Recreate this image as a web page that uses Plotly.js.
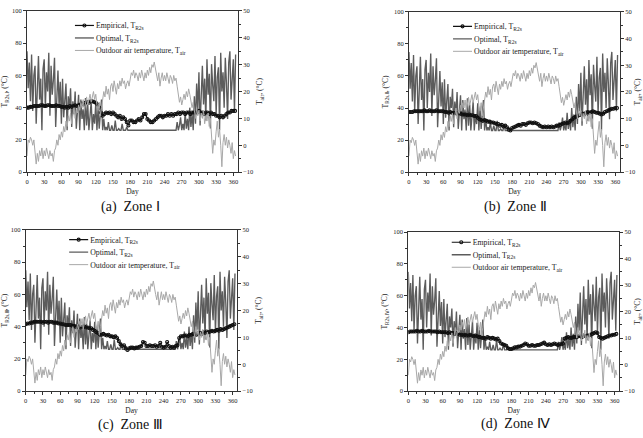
<!DOCTYPE html>
<html><head><meta charset="utf-8">
<script src="https://cdn.plot.ly/plotly-3.0.1.min.js"></script>
<style>body{margin:0;padding:0;background:#fff}#chart{width:643px;height:438px}</style>
</head><body><div id="chart"></div>
<script>
// Outdoor air temperature (°C), every 2 days from day 0
const outdoorAir = [
-4,2,1,3,2,0,2,-2,-7,-3,-6,-2,-4,-1,-5,-2,-4,-1,-3,-5,
-2,-4,-3,-6,-2,-1,2,0,4,2,5,3,7,5,9,7,11,9,12,8,
11,14,10,13,12,15,13,16,14,17,13,16,18,15,17,19,16,18,20,17,
19,15,13,16,11,14,17,20,18,22,19,21,17,22,23,20,24,22,19,23,
21,24,22,25,23,24,21,23,24,22,25,27,26,28,25,27,26,24,27,25,
28,26,24,27,25,28,26,29,27,30,29,31,28,26,24,27,22,25,27,24,
26,24,27,25,23,26,25,23,26,24,25,22,19,16,18,15,17,19,17,20,
18,21,19,17,14,16,12,10,14,11,13,9,12,10,13,8,11,9,12,7,
10,5,-3,2,0,5,9,3,6,0,-8,1,4,0,3,-1,2,0,-3,1,
-5,-2,-4
];
// Optimal supply temperature (°C), every 2 days from day 0
const optimal = [
75,52,68,44,73,38,60,66,30,55,72,45,58,26,64,70,40,62,50,74,35,66,48,57,71,28,52,63,41,56,30,
58,34,49,55,26,47,40,52,28,44,36,50,27,41,48,26,45,33,39,26,46,29,42,26,38,44,26,36,30,43,26,40,27,34,45,
26,33,26,28,26,31,26,26,29,26,26,32,26,26,27,26,26,30,26,26,26,28,26,
26,26,26,26,26,26,26,26,26,26,26,26,26,26,26,26,26,26,26,26,26,26,26,26,26,26,26,26,26,26,26,26,26,26,26,26,26,26,26,26,26,
26,31,26,29,34,26,30,26,37,27,33,26,40,28,36,26,
47,30,55,38,62,29,50,66,42,58,32,70,48,61,27,67,54,44,72,36,59,65,26,74,50,62,40,71,55,33,68,75,45,60,70,38,73
];
// Empirical supply temperature (°C), every 3 days from day 0
const empZone1 = [
40,40,40.5,40.5,41,41,41,41,41.5,41.5,41,41,41.5,41.5,41,41,41,41.5,41,41,40.5,
40.5,40,40.5,40,41,40.5,41,41.5,41,41.5,42,42.5,42,
43,43.5,43,44,44,43.5,43,42,40,
37,35,36,37,36.5,37,36,37,
36,35,34,35,33,34,33,
31,29,32,32,31,31,32,33,32,
34,36,36,33,32,31,31,
32,33,34,35,35,34,35,35,36,
35,36,35,36,36,37,36,37,37,36,37,37,36,37,37,
37,37,38,37,37,36,37,37,36,37,36,36,35,
35,34,35,34,35,36,37,37,38,38,38
];
const empZone2 = [
37.5,37.5,37.5,38,38,38,38,38,38,38.5,38,38,38.5,38,38,38,38.5,38,38,38,38,
37.5,37.5,37,37.5,37,37,37,36.5,37,36.5,36,36,36,
35.5,36,35.5,35.5,35,35,34,33,32.5,
32,32.5,32,31.5,31.5,31,31,30.5,
30,30,29,29.5,28.5,29,28,
26.5,26,27.5,28,28.5,29,29.5,29,30,
30,29.5,30.5,31,31,30.5,31,
30.5,30,29,28.5,28,28.5,28,28.5,28,
28.5,28,28.5,29,29,29.5,30,30.5,31,30.5,31,32,33,34,34.5,
35,35.5,36,36.5,36,37,37.5,37,37.5,38,37.5,37,37,
36.5,36,36.5,37.5,38,38.5,39,39.5,39.5,40,40
];
const empZone3 = [
41.5,42,42,42.5,42.5,43,43,43,43,43,42.5,43,43,42.5,43,43,42.5,42.5,42.5,42,42,
41.5,41.5,41,41,41,41,40.5,40.5,40,40,40,39.5,40,
40,39.5,39.5,39,39,38,37.5,36.5,36,
35,35,35.5,35,34.5,35,34,34,
33.5,34,33,31,29,28,28.5,
26.5,25.5,26.5,27,27,26.5,27,27,27.5,
28,30.5,30,28,28,28.5,28,
28,28.5,27.5,28,30,27.5,27,27.5,30.5,
28,27,27.5,27,28,28.5,33,34,34,34.5,34.5,34,35,35,35.5,
35.5,35,36,36,35.5,36.5,36,37,36.5,37,37.5,37,37.5,
38,37.5,38.5,38,38.5,39,39.5,40,40.5,41,41.5
];
const empZone4 = [
37,37.5,37.5,37.5,37.5,38,37.5,37.5,38,37.5,37.5,37.5,38,37.5,37.5,37.5,37.5,37,37.5,37,37,
37,37,36.5,37,36.5,36.5,36,36.5,36,35.5,35.5,35,35.5,
35,35,35.5,35,34.5,35,34.5,34,34,
33.5,33.5,33,34,33.5,33,33.5,33,
32.5,33,31.5,30,29.5,29,28.5,
27,26.5,26.5,27,27.5,27.5,28,28,28.5,
29,30,29.5,28.5,28.5,29,28.5,
28.5,29,29,29.5,30,30.5,29.5,29,29.5,
29,29.5,30,29.5,29,29.5,29.5,30,33,33.5,34,33.5,33.5,34,34,
34,34.5,34.5,34,35,34.5,35,35,35.5,36,36.5,37,36.5,
34,33.5,33,33.5,34,34.5,35,35,35.5,35.5,36
];
const empirical = [empZone1, empZone2, empZone3, empZone4];
const dayTicks = [0,30,60,90,120,150,180,210,240,270,300,330,360];
const zoneLabels = ['(a)  Zone Ⅰ','(b)  Zone Ⅱ','(c)  Zone Ⅲ','(d)  Zone Ⅳ'];
const zoneSubs = ['R2s,Ⅰ','R2s,Ⅱ','R2s,Ⅲ','R2s,Ⅳ'];
const legendNames = ['Empirical, T<sub>R2s</sub>','Optimal, T<sub>R2s</sub>','Outdoor air temperature, T<sub>air</sub>'];

// layout geometry
const xDomains = [[0.042,0.370],[0.636,0.964],[0.040,0.369],[0.635,0.963]];
const yDomains = [[0.607,0.975],[0.607,0.973],[0.107,0.475],[0.107,0.470]];
const legendPos = [[0.087,0.975],[0.675,0.973],[0.078,0.486],[0.673,0.480]];
const captionPos = [[0.203,0.527],[0.802,0.527],[0.203,0.030],[0.802,0.032]];

const FONT = 'Liberation Serif, Times New Roman, serif';
const traces = [];
const layout = {
  width:643, height:438, margin:{l:0,r:0,t:0,b:0},
  paper_bgcolor:'#fff', plot_bgcolor:'#fff',
  font:{family:FONT, color:'#222', size:7},
  annotations:[], showlegend:true
};
for (let i=0;i<4;i++){
  const xa = 'x'+(i+1), yl = 'y'+(2*i+1), yr = 'y'+(2*i+2);
  const lg = i===0 ? 'legend' : 'legend'+(i+1);
  traces.push({x0:0, dx:2, y:optimal, type:'scatter', mode:'lines', name:legendNames[1],
    xaxis:xa, yaxis:yl, legend:lg, legendrank:2, line:{color:'#5c5c5c', width:1.35}});
  traces.push({x0:0, dx:3, y:empirical[i], type:'scatter', mode:'lines+markers', name:legendNames[0],
    xaxis:xa, yaxis:yl, legend:lg, legendrank:1, line:{color:'#111', width:1.2},
    marker:{symbol:'circle-open', size:3, color:'#111', line:{width:1.1, color:'#111'}}});
  traces.push({x0:0, dx:2, y:outdoorAir, type:'scatter', mode:'lines', name:legendNames[2],
    xaxis:xa, yaxis:yr, legend:lg, legendrank:3, line:{color:'#a8a8a8', width:1}});
  const axCommon = {showline:true, linecolor:'#333', linewidth:1, ticks:'outside', ticklen:3,
    tickcolor:'#333', tickfont:{size:6.5, family:FONT, color:'#222'}, showgrid:false, zeroline:false};
  layout['xaxis'+(i+1)] = Object.assign({}, axCommon, {domain:xDomains[i], anchor:yl, range:[0,368],
    tickvals:dayTicks, mirror:true, minor:{dtick:15, ticklen:2, ticks:'outside', tickcolor:'#333'},
    title:{text:'Day', font:{size:7.5, family:FONT}, standoff:4}});
  layout['yaxis'+(2*i+1)] = Object.assign({}, axCommon, {domain:yDomains[i], anchor:xa, range:[0,100],
    dtick:20, minor:{dtick:10, ticklen:2, ticks:'outside', tickcolor:'#333'},
    title:{text:'T<sub>'+zoneSubs[i]+'</sub>, (°C)', font:{size:7.5, family:FONT}, standoff:4}});
  layout['yaxis'+(2*i+2)] = Object.assign({}, axCommon, {domain:yDomains[i], anchor:xa, overlaying:yl,
    side:'right', range:[-10,50], dtick:10, minor:{dtick:5, ticklen:2, ticks:'outside', tickcolor:'#333'},
    title:{text:'T<sub>air</sub>, (°C)', font:{size:7.5, family:FONT}, standoff:4}});
  layout[lg] = {x:legendPos[i][0], y:legendPos[i][1], xanchor:'left', yanchor:'top',
    bgcolor:'rgba(0,0,0,0)', borderwidth:0, font:{size:7.8, family:FONT, color:'#222'},
    tracegroupgap:0, itemwidth:30};
  layout.annotations.push({text:zoneLabels[i], xref:'paper', yref:'paper', x:captionPos[i][0], y:captionPos[i][1],
    xanchor:'center', yanchor:'middle', showarrow:false, font:{size:14, family:FONT, color:'#111'}});
}
const gd = document.getElementById('chart');
Plotly.newPlot(gd, traces, layout, {displayModeBar:false, staticPlot:true}).then(function(){
  // tighten legend rows and shorten legend sample lines to match the original figure
  ['legend','legend2','legend3','legend4'].forEach(function(id){
    const L = gd.querySelector('g.' + id);
    if (!L) return;
    const items = Array.from(L.querySelectorAll('g.traces'));
    let y0 = null;
    items.forEach(function(it, k){
      const m = /translate\(\s*([-\d.]+)[ ,]+([-\d.]+)\s*\)/.exec(it.getAttribute('transform') || '');
      if (!m) return;
      if (y0 === null) y0 = parseFloat(m[2]);
      it.setAttribute('transform', 'translate(' + m[1] + ',' + (y0 + k * 12.5) + ')');
    });
    L.querySelectorAll('g.legendlines path').forEach(function(p){ p.setAttribute('d', 'M19,0h19'); });
    L.querySelectorAll('g.legendpoints path.scatterpts').forEach(function(p){ p.setAttribute('transform', 'translate(28.5,0)'); });
  });
});
</script></body></html>
